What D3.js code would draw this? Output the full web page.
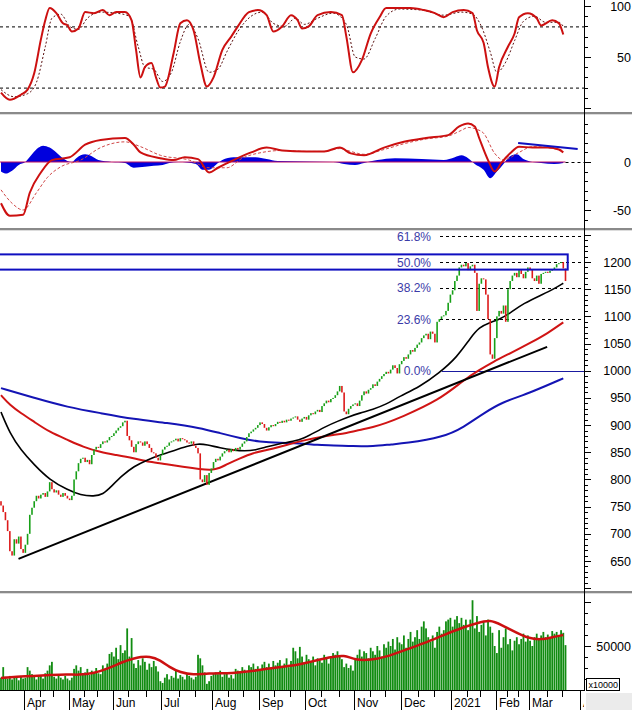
<!DOCTYPE html>
<html><head><meta charset="utf-8">
<script src="https://cdn.jsdelivr.net/npm/d3@7"></script>
<style>
html,body{margin:0;padding:0;background:#fff;}
svg{display:block;font-family:"Liberation Sans",Arial,sans-serif;}
</style></head><body>
<svg id="c" width="632" height="710"></svg>
<script>
// ---------------- DATA ----------------
const firstOpen = 760;
const closes = [
752,740,725,705,668, 660,690,682,695,672, 665,680,700,735,748, 760,770,765,772,775,
768,778,795,782,776, 780,772,768,775,770, 765,762,770,800,815, 830,838,840,832,836,
828,845,855,860,858, 865,870,868,872,878, 880,885,890,895,898, 905,908,880,872,860,
850,865,870,868,862, 870,865,858,850,848, 840,835,845,855,860, 862,868,870,872,875,
870,876,874,872,868, 866,870,862,858,848, 800,795,808,790,812, 820,832,838,835,842,
848,852,855,850,856, 852,858,855,860,866, 870,878,885,888,892, 895,900,905,902,895,
890,896,900,898,902, 906,904,908,905,910, 908,912,914,916,910, 906,912,915,910,918,
922,920,925,928,924, 935,940,945,942,948, 950,955,962,972,960, 925,920,930,935,938,
940,935,945,955,962, 958,965,968,975,972, 980,985,990,994,998, 995,1002,1010,1005,995,
1012,1018,1025,1022,1030, 1038,1035,1042,1048,1052, 1060,1065,1068,1058,1072, 1068,1052,1090,1095,1100,
1102,1110,1125,1140,1148, 1165,1175,1190,1195,1192, 1198,1185,1192,1195,1180, 1110,1160,1170,1168,1140,
1095,1030,1022,1060,1100, 1110,1105,1120,1090,1150, 1165,1175,1180,1172,1185, 1178,1170,1182,1190,1186,
1170,1165,1175,1160,1178, 1180,1182,1180,1184,1186, 1190,1196,1198,1200,1188, 1165];

const volumes = [
14000,26000,15000,13000,16000,12000,14000,15000,11000,16000,13000,
14000,26000,22000,18000,15000,12000,17000,16000,13000,19000,
22000,28000,32000,15000,13000,18000,14000,12000,16000,13000,
11000,14000,24000,28000,22000,26000,18000,20000,24000,17000,
22000,20000,25000,19000,18000,28000,24000,30000,41000,43000,
38000,48000,35000,51000,42000,45000,70000,38000,59000,30000,
25000,34000,28000,36000,32000,23000,30000,26000,33000,27000,
21000,10000,8000,14000,18000,12000,16000,14000,22000,13000,
17000,15000,12000,18000,16000,14000,12000,15000,40000,36000,
28000,20000,7000,10000,16000,19000,20000,18000,22000,15000,
18000,20000,14000,17000,13000,24000,22000,20000,26000,23000,
20000,28000,26000,30000,24000,27000,23000,29000,32000,26000,
30000,24000,33000,28000,31000,34000,27000,30000,36000,26000,
33000,48000,44000,36000,49000,38000,30000,40000,35000,33000,
38000,28000,36000,34000,31000,40000,36000,30000,38000,42000,
40000,44000,38000,35000,26000,30000,25000,28000,22000,36000,
40000,46000,38000,44000,42000,36000,48000,44000,40000,50000,
45000,38000,52000,48000,55000,50000,58000,46000,60000,54000,
52000,62000,48000,58000,66000,55000,60000,68000,58000,72000,
78000,70000,60000,55000,62000,48000,66000,72000,64000,68000,
78000,80000,82000,72000,80000,84000,76000,82000,74000,80000,
68000,80000,102000,70000,84000,66000,74000,78000,62000,80000,
72000,65000,50000,42000,68000,48000,60000,70000,52000,58000,
45000,56000,60000,52000,58000,64000,55000,62000,56000,50000,
60000,64000,58000,62000,66000,60000,63000,58000,67000,64000,
66000,62000,68000,65000,51000];

// moving averages: [day index, value]
const maBlack = [[0,924],[4,885],[9,854],[15,827],[22,799],[30,781],[36,771],[42,769],[46,772],[50,788],[55,808],[60,824],[66,836],[72,845],[78,853],[84,861],[89,866],[93,864],[99,858],[105,854],[110,852],[115,854],[120,860],[126,866],[132,870],[137,876],[142,887],[147,898],[152,907],[157,915],[162,922],[168,929],[174,938],[180,953],[189,970],[198,996],[206,1025],[212,1060],[216,1080],[221,1089],[225,1094],[230,1106],[236,1124],[245,1141],[250,1151],[254,1161]];
const maRed = [[0,955],[4,937],[9,922],[15,906],[22,887],[30,873],[37,860],[45,850],[52,845],[60,839],[67,832],[75,828],[82,823],[90,819],[95,817],[99,821],[102,828],[108,839],[114,849],[120,854],[126,860],[132,867],[138,873],[144,878],[150,882],[156,885],[162,891],[168,896],[174,904],[180,913],[198,946],[209,983],[216,1001],[222,1016],[231,1034],[239,1051],[247,1069],[254,1089]];
const maBlue = [[0,968],[15,950],[30,933],[45,922],[60,911],[75,904],[90,895],[99,885],[108,876],[117,869],[126,867],[135,867],[143,863],[150,863],[159,861],[168,861],[177,865],[182,866],[200,878],[209,896],[218,922],[227,943],[236,955],[242,965],[254,986]];
const volMA = [[0,13600],[7,15000],[15,16000],[22,17000],[30,18000],[35,17000],[42,19000],[49,25000],[55,32000],[60,36000],[63,37500],[67,38500],[72,34000],[76,26000],[81,20000],[87,17000],[93,19000],[105,19000],[114,21500],[125,26000],[134,28400],[138,31000],[149,37500],[155,40000],[160,34000],[167,34000],[174,37500],[182,45000],[191,53000],[200,62500],[209,71500],[215,76000],[221,80000],[226,74000],[233,65000],[238,59000],[244,57000],[249,60000],[254,62500]];

const rsi = [[0,15],[4,8],[9,13],[12,18],[15,34],[18,67],[20,86],[22,98],[25,93],[28,83],[30,81],[32,75],[35,78],[38,94],[42,93],[46,96],[49,91],[52,94],[56,94],[59,86],[61,57],[63,30],[65,40],[68,44],[70,30],[72,20],[74,21],[78,54],[81,83],[84,86],[87,76],[90,44],[93,21],[96,30],[100,57],[104,70],[107,80],[112,94],[116,96],[120,91],[123,75],[127,80],[131,91],[134,86],[136,78],[139,80],[143,91],[149,94],[154,91],[156,70],[159,35],[163,47],[167,73],[171,89],[174,98],[180,98],[185,98],[191,96],[196,93],[200,89],[204,94],[209,96],[213,93],[215,76],[218,64],[220,40],[223,21],[225,40],[229,60],[232,73],[234,89],[238,93],[242,88],[244,81],[249,86],[252,83],[254,72]];
const rsiSignal = [[0,18],[6,11],[12,14],[16,25],[20,60],[23,88],[27,92],[31,80],[35,77],[39,88],[45,94],[52,93],[58,90],[62,60],[65,40],[69,38],[73,26],[77,35],[81,65],[85,82],[89,68],[94,35],[98,38],[102,55],[107,75],[113,90],[118,94],[123,83],[128,80],[133,88],[137,82],[143,88],[150,93],[156,82],[160,50],[164,48],[169,68],[174,90],[180,97],[190,96],[200,91],[208,94],[213,92],[217,80],[221,55],[224,35],[228,45],[232,66],[236,85],[241,90],[246,84],[252,84],[254,80]];

const macd = [[0,-43],[4,-56],[10,-55],[13,-32],[18,-11],[23,2],[31,5],[38,18],[45,23],[56,25],[60,18],[63,10],[72,4],[78,2],[83,5],[89,3],[94,-11],[98,-6],[105,2],[113,10],[120,15],[127,12],[138,11],[146,11],[153,15],[158,9],[164,7],[173,15],[182,21],[192,25],[202,28],[207,37],[211,40],[214,37],[216,25],[220,2],[223,-10],[226,-1],[230,9],[234,16],[240,15],[247,15],[252,13],[254,10]];
const macdSignal = [[0,-29],[5,-43],[10,-50],[16,-32],[21,-16],[27,-5],[36,2],[45,15],[56,21],[63,16],[72,7],[85,2],[94,-6],[102,-6],[109,4],[118,10],[127,12],[138,11],[146,11],[153,14],[158,11],[164,8],[173,13],[182,19],[192,24],[202,27],[208,33],[211,36],[215,34],[218,30],[223,9],[227,2],[234,10],[240,16],[247,15],[254,12]];
const macdHist = [[0,-10],[2,-12],[5,-9],[8,-3],[11,0],[14,8],[17,15],[19,17],[22,15],[25,10],[28,4],[30,1],[32,0],[34,4],[38,8],[41,6],[44,2],[50,0],[56,-1],[60,-6],[65,-5],[69,-4],[73,-3],[76,-1],[80,0],[88,-2],[91,-8],[94,-8],[97,-3],[100,2],[105,5],[115,5],[120,3],[125,1],[150,0],[155,-2],[160,-3],[164,-1],[170,2],[178,4],[190,3],[200,2],[205,5],[208,7],[211,4],[214,-2],[218,-8],[221,-17],[224,-10],[227,-2],[230,6],[233,8],[236,3],[240,0],[244,-1],[250,-2],[254,-1]];

const trendLine = [[7.9,654],[246.7,1044]];
const macdTrend = [[233.6,19.8],[260.5,13.5]];
const fibLabels = ["0.0%","23.6%","38.2%","50.0%","61.8%"];
const fibValues = [1000,1094.4,1152.8,1200,1247.2];
const boxRange = [1186,1214];
const boxEndIndex = 256;
const monthLabels = ["Apr","May","Jun","Jul","Aug","Sep","Oct","Nov","Dec","2021","Feb","Mar","Apr"];
const monthStart = [11,31,51,73,96,117,138,160,181,204,224,239,262];
const priceTicks = [650,700,750,800,850,900,950,1000,1050,1100,1150,1200];
const rsiTicks = [50,100];
const macdTicks = [0,-50];
const volTicks = [50000];

// ---------------- LAYOUT ----------------
const AX = 584;
const svg = d3.select("#c");
const x = d3.scaleLinear().domain([0,255]).range([1.0,565.5]);
const yR = d3.scaleLinear().domain([0,100]).range([108,6]);
const yM = d3.scaleLinear().domain([-50,0]).range([210,162]);
const yP = d3.scaleLinear().domain([650,1200]).range([561,262]);
const yV = d3.scaleLinear().domain([0,50000]).range([690,646]);
const panels = {rsi:[0,112], macd:[115,228], price:[231,591], vol:[594,690]};

const defs = svg.append("defs");
Object.entries(panels).forEach(([k,[a,b]])=>{
  defs.append("clipPath").attr("id","clip-"+k).append("rect").attr("x",0).attr("y",a).attr("width",AX).attr("height",b-a);
});
defs.append("clipPath").attr("id","clip-xl").append("rect").attr("x",0).attr("y",690).attr("width",AX).attr("height",20);

const gR = svg.append("g").attr("clip-path","url(#clip-rsi)");
const gM = svg.append("g").attr("clip-path","url(#clip-macd)");
const gP = svg.append("g").attr("clip-path","url(#clip-price)");
const gV = svg.append("g").attr("clip-path","url(#clip-vol)");

const mk = (ys)=>d3.line().x(d=>x(d[0])).y(d=>ys(d[1])).curve(d3.curveMonotoneX);
const mkS = (ys)=>d3.line().x(d=>x(d[0])).y(d=>ys(d[1])).curve(d3.curveBasis);

// ---- RSI panel ----
[80,20].forEach(v=>{
  gR.append("line").attr("x1",0).attr("x2",AX).attr("y1",yR(v)+0.5).attr("y2",yR(v)+0.5)
    .attr("stroke","#000").attr("stroke-dasharray","3,3");
});
gR.append("path").datum(rsiSignal).attr("d",mk(yR)).attr("fill","none").attr("stroke","#5a1010").attr("stroke-width",1).attr("stroke-dasharray","2,2");
gR.append("path").datum(rsi).attr("d",mk(yR)).attr("fill","none").attr("stroke","#cc1010").attr("stroke-width",2);

// ---- MACD panel ----
gM.append("path").datum(macdHist)
  .attr("d",d3.area().x(d=>x(d[0])).y0(yM(0)).y1(d=>yM(d[1])).curve(d3.curveMonotoneX))
  .attr("fill","#0000dd");
gM.append("line").attr("x1",0).attr("x2",x(255)).attr("y1",yM(0)).attr("y2",yM(0)).attr("stroke","#c01060").attr("stroke-width",1.2);
gM.append("line").attr("x1",x(255)).attr("x2",AX).attr("y1",yM(0)+0.5).attr("y2",yM(0)+0.5).attr("stroke","#000").attr("stroke-dasharray","3,3");
gM.append("path").datum(macdSignal).attr("d",mk(yM)).attr("fill","none").attr("stroke","#d04848").attr("stroke-width",1).attr("stroke-dasharray","3,2");
gM.append("path").datum(macd).attr("d",mk(yM)).attr("fill","none").attr("stroke","#cc1010").attr("stroke-width",2);
gM.append("path").datum(macdTrend).attr("d",d3.line().x(d=>x(d[0])).y(d=>yM(d[1]))).attr("stroke","#1010c0").attr("stroke-width",2);

// ---- Price panel ----
fibValues.forEach((v,k)=>{
  const y0 = Math.round(yP(v))+0.5;
  if(k===0){
    gP.append("line").attr("x1",442).attr("x2",AX).attr("y1",y0).attr("y2",y0).attr("stroke","#1a1aa0").attr("stroke-width",1);
  } else {
    gP.append("line").attr("x1",440).attr("x2",AX).attr("y1",y0).attr("y2",y0).attr("stroke","#000").attr("stroke-dasharray","3,3");
  }
  gP.append("text").attr("x",431).attr("y",yP(v)+4.5).attr("text-anchor","end").attr("font-size",12).attr("fill","#3b3ba8").text(fibLabels[k]);
});
gP.append("path").datum(maBlue).attr("d",mkS(yP)).attr("fill","none").attr("stroke","#1414b4").attr("stroke-width",2);
gP.append("path").datum(maRed).attr("d",mkS(yP)).attr("fill","none").attr("stroke","#d01414").attr("stroke-width",2);
gP.append("path").datum(trendLine).attr("d",d3.line().x(d=>x(d[0])).y(d=>yP(d[1]))).attr("stroke","#000").attr("stroke-width",2);
gP.append("path").datum(maBlack).attr("d",mkS(yP)).attr("fill","none").attr("stroke","#000").attr("stroke-width",1.6);
const candles = closes.map((c,i)=>({i, o: i===0?firstOpen:closes[i-1], c}));
gP.selectAll("rect.cd").data(candles).join("rect").attr("class","cd")
  .attr("x",d=>x(d.i)-0.8).attr("width",1.6)
  .attr("y",d=>yP(Math.max(d.o,d.c)))
  .attr("height",d=>Math.max(1,Math.abs(yP(d.o)-yP(d.c))))
  .attr("fill",d=>d.c>=d.o?"#18a018":"#dd1a1a");
gP.append("rect").attr("x",-5).attr("width",x(boxEndIndex)+5)
  .attr("y",yP(boxRange[1])).attr("height",yP(boxRange[0])-yP(boxRange[1]))
  .attr("fill","none").attr("stroke","#0f0fc0").attr("stroke-width",2);

// ---- Volume panel ----
gV.selectAll("rect.vb").data(volumes).join("rect").attr("class","vb")
  .attr("x",(d,i)=>x(i)-0.9).attr("width",1.8)
  .attr("y",d=>yV(d)).attr("height",d=>690-yV(d))
  .attr("fill","#118c11");
gV.append("path").datum(volMA).attr("d",mkS(yV)).attr("fill","none").attr("stroke","#cc1010").attr("stroke-width",2.5);

// ---- separators ----
[[112,113.5],[228,229.5],[591,592.5]].forEach(([a,b])=>{
  svg.append("rect").attr("x",0).attr("y",a).attr("width",632).attr("height",2).attr("fill","#8a8a8a");
  svg.append("line").attr("x1",0).attr("x2",632).attr("y1",a+2.5).attr("y2",a+2.5).attr("stroke","#dcdcdc");
});

// ---- right axis ----
svg.append("line").attr("x1",AX+0.5).attr("x2",AX+0.5).attr("y1",0).attr("y2",691).attr("stroke","#000");
const tick = (y,len)=>svg.append("line").attr("x1",AX).attr("x2",AX+len).attr("y1",Math.round(y)+0.5).attr("y2",Math.round(y)+0.5).attr("stroke","#000");
const label = (y,t)=>svg.append("text").attr("x",631).attr("y",y+4.5).attr("text-anchor","end").attr("font-size",12.5).attr("fill","#000").text(t);
for(let v=0; v<=100; v+=10) tick(yR(v), v%50===0?7:4);
rsiTicks.forEach(v=>label(yR(v),v));
for(let v=-60; v<=40; v+=10){ const y=yM(v); if(y>116&&y<227) tick(y, v%50===0?7:4); }
macdTicks.forEach(v=>label(yM(v),v));
for(let v=600; v<=1260; v+=10){ const y=yP(v); if(y>232&&y<590) tick(y, v%50===0?7:4); }
priceTicks.forEach(v=>label(yP(v),v));
for(let v=12500; v<=100000; v+=12500){ const y=yV(v); if(y>595&&y<689) tick(y, v%50000===0?7:4); }
volTicks.forEach(v=>label(yV(v),v));

// ---- x axis ----
svg.append("line").attr("x1",0).attr("x2",AX).attr("y1",690.5).attr("y2",690.5).attr("stroke","#000");
const gX = svg.append("g").attr("clip-path","url(#clip-xl)");
monthStart.forEach((s,k)=>{
  const xs = Math.round(x(s-0.5))+0.5;
  gX.append("line").attr("x1",xs).attr("x2",xs).attr("y1",690).attr("y2",710).attr("stroke","#000");
  gX.append("text").attr("x",xs+2.5).attr("y",707).attr("font-size",12).attr("fill","#000").text(monthLabels[k]);
  if(k<monthStart.length-1){
    const len = monthStart[k+1]-s;
    [Math.round(len/3), Math.round(2*len/3)].forEach(o=>{
      const xm = Math.round(x(s+o-0.5))+0.5;
      gX.append("line").attr("x1",xm).attr("x2",xm).attr("y1",690).attr("y2",697).attr("stroke","#000");
    });
  }
});
svg.append("rect").attr("x",586).attr("y",693).attr("width",46).attr("height",17).attr("fill","#ebebeb");
svg.append("rect").attr("x",586.5).attr("y",678.5).attr("width",33).attr("height",12).attr("fill","#fff").attr("stroke","#000");
svg.append("text").attr("x",588.5).attr("y",688).attr("font-size",9).attr("fill","#000").text("x10000");
</script></body></html>
